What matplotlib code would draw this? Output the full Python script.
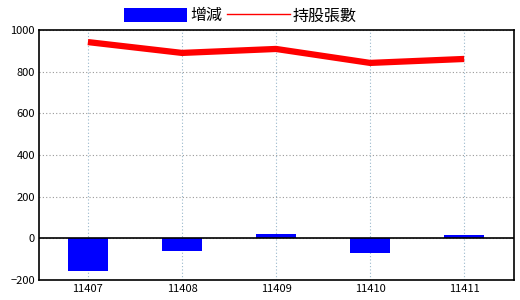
import matplotlib
matplotlib.use("Agg")
import matplotlib.pyplot as plt
from matplotlib.patches import Patch
from matplotlib.lines import Line2D

plt.rcParams['font.family'] = ['Noto Sans CJK TC', 'DejaVu Sans']

months = ["11407", "11408", "11409", "11410", "11411"]
change = [-157, -61, 22, -69, 18]
holdings = [942, 890, 909, 842, 861]

fig = plt.figure(figsize=(5.2, 3), dpi=100)
ax = fig.add_axes([0.075, 0.0667, 0.9135, 0.8333])

x = range(len(months))
ax.bar(x, change, width=0.42, color="#0000ff", zorder=2)
ax.plot(x, holdings, color="#ff0000", lw=4.5, zorder=3, solid_capstyle="butt")
ax.axhline(0, color="black", lw=1.2, zorder=2)

ax.set_xlim(-0.52, 4.53)
ax.set_ylim(-200, 1000)
ax.set_yticks(range(-200, 1001, 200))
ax.set_xticks(list(x))
ax.set_xticklabels(months)
ax.tick_params(length=0, labelsize=8, pad=3)

ax.grid(axis="x", color="#9ab8cc", linestyle=(0, (1, 2)), lw=0.8, zorder=1)
ax.grid(axis="y", color="#999999", linestyle=(0, (1, 2)), lw=0.8, zorder=1)
for s in ax.spines.values():
    s.set_color("black")
    s.set_linewidth(1.2)

handles = [Patch(facecolor="#0000ff", edgecolor="none"),
           Line2D([], [], color="#ff0000", lw=1)]
fig.legend(handles, ["增減", "持股張數"], loc="center",
           bbox_to_anchor=(0.462, 0.947), ncol=2, frameon=False, fontsize=11.5,
           handlelength=3.95, handleheight=1.0, handletextpad=0.2,
           columnspacing=0.3, borderpad=0)

fig.savefig("out.png")
